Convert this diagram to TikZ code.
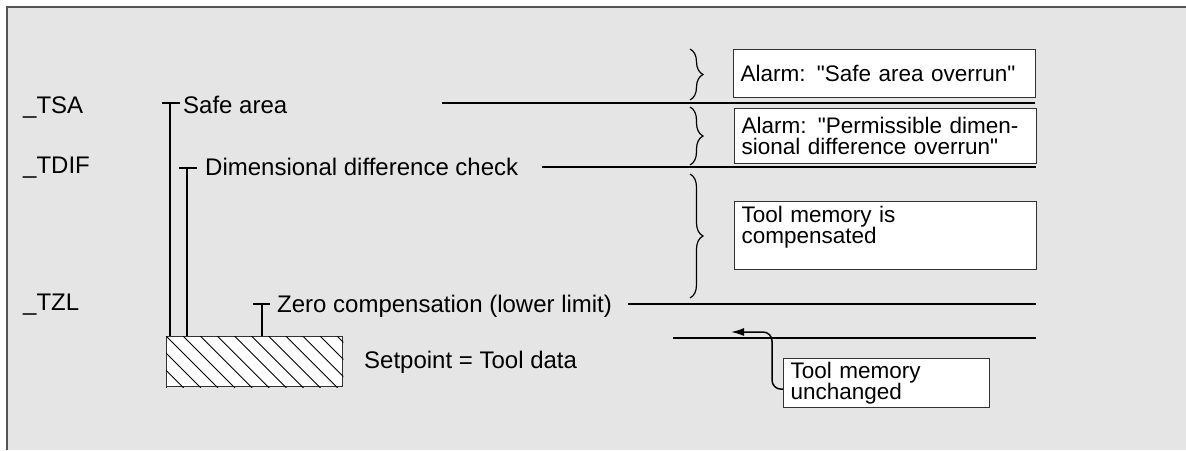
\documentclass[tikz,border=0pt]{standalone}
\usepackage{fontspec}
\setmainfont{Liberation Sans}
\usetikzlibrary{arrows.meta,decorations.pathreplacing}
\definecolor{panelgray}{RGB}{229,229,229}
\definecolor{framegray}{RGB}{85,85,85}

\begin{document}
\begin{tikzpicture}[x=1pt, y=-1pt,
  lbl/.style={anchor=base west, inner sep=0pt, font=\fontsize{24}{28}\selectfont},
  msgbox/.style={draw=black!80, line width=1.3pt, fill=white, anchor=north west, align=left,
    inner xsep=7pt, inner ysep=0pt, font=\fontsize{22.5}{21}\selectfont},
  level/.style={line width=2.2pt},
  marker/.style={line width=2pt},
  brc/.style={decorate, decoration={brace, amplitude=13pt}, line width=1.2pt}]
  \useasboundingbox (0,0) rectangle (1186,450);
  \fill[white] (0,0) rectangle (1186,450);
  \fill[panelgray] (7,7) rectangle (1186,450);
  \draw[framegray, line width=2pt] (7,450) -- (7,7) -- (1186,7);

  \node[lbl] (tsa) at (23,113) {\_TSA};
  \node[lbl] (tdif) at (23,173) {\_TDIF};
  \node[lbl] (tzl) at (23,310) {\_TZL};
  \node[lbl] (safe) at (183,113) {Safe area};
  \node[lbl] (dimchk) at (205,175) {Dimensional difference check};
  \node[lbl] (zero) at (277,312) {Zero compensation (lower limit)};
  \node[lbl] (setpt) at (364,368) {Setpoint = Tool data};

  \node[draw=black!80, line width=1.3pt, fill=white, anchor=north west, inner sep=0pt,
    minimum width=176, minimum height=50] (setbox) at (166,336) {};
  \begin{scope}
    \clip (setbox.south west) rectangle (setbox.north east);
    \foreach \i in {-3,...,10}
      \draw[line width=0.9pt] ({166+17.1*\i},336) -- ++(52,52);
  \end{scope}

  \draw[marker] (162,103) -- (180,103) (170,103) -- (170,0 |- setbox.north);
  \draw[marker] (179,168) -- (197,168) (187,168) -- (187,0 |- setbox.north);
  \draw[marker] (253,304) -- (270,304) (262,304) -- (262,0 |- setbox.north);

  \draw[level] (442,103) -- (1035,103);
  \draw[level] (542,167) -- (1036,167);
  \draw[line width=1.3pt] (628,304) -- (1036,304);
  \draw[level] (673,338) -- (1036,338);

  \draw[brc] (690,49) -- (690,100);
  \draw[brc] (690,107) -- (690,165);
  \draw[brc] (690,174) -- (690,298);

  \node[msgbox, text width=288, minimum height=48] (alarmsafe) at (733,49)
    {Alarm: \textquotedbl Safe area overrun\textquotedbl};
  \node[msgbox, text width=288, minimum height=55] (alarmdif) at (734,108)
    {Alarm: \textquotedbl Permissible dimen-\\sional difference overrun\textquotedbl};
  \node[msgbox, text width=288, minimum height=68] (compens) at (734,201)
    {Tool memory is\\compensated\\\mbox{}};
  \node[msgbox, text width=192, minimum height=49] (unchg) at (783,358)
    {Tool memory\\unchanged};

  \coordinate (back) at (731,332);
  \draw[line width=1.5pt, rounded corners=9pt, -{Latex[length=13pt,width=8pt]}]
    ([yshift=-6pt]unchg.west) -- ++(-11,0) |- (back);
\end{tikzpicture}
\end{document}
